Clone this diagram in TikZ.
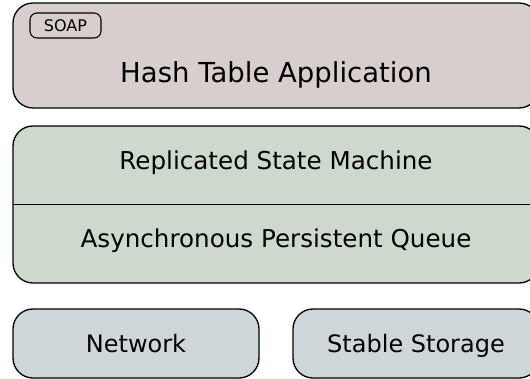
\documentclass[tikz,border=0pt]{standalone}
\usepackage{fontspec}
\setmainfont{DejaVu Sans}
\usetikzlibrary{positioning}
\definecolor{appfill}{RGB}{217,206,206}
\definecolor{corefill}{RGB}{206,217,206}
\definecolor{iofill}{RGB}{206,214,217}
\tikzstyle{layer} = [draw, rectangle, rounded corners=20pt, line width=1.3pt, inner sep=0pt, outer sep=0pt]
\tikzstyle{tag} = [draw, rectangle, rounded corners=7pt, line width=1.1pt, minimum width=71pt, minimum height=25pt, inner sep=0pt, outer sep=0pt, font=\fontsize{16}{18}\selectfont]
\tikzstyle{lbl} = [anchor=base, inner sep=0pt, font=\fontsize{24}{28}\selectfont]
\begin{document}
\begin{tikzpicture}[x=1pt,y=-1pt]
		\useasboundingbox (0,0) rectangle (530,379);
		\clip (0,0) rectangle (530,379);
		% layers
		\node (app) [layer,fill=appfill,minimum width=526pt,minimum height=105pt] at (276,55.5) {};
		\node (core) [layer,fill=corefill,minimum width=526pt,minimum height=157pt] at (276,204.5) {};
		\node (net) [layer,fill=iofill,minimum width=246pt,minimum height=69pt] at (136,343.5) {};
		\node (store) [layer,fill=iofill,minimum width=246pt,minimum height=69pt] at (416,343.5) {};
		\draw[line width=1.2pt] (core.west) -- (core.east);
		% labels
		\node (soap) [tag,below right=10pt and 17pt of app.north west] {SOAP};
		\node (hta) [lbl,font=\fontsize{27.5}{32}\selectfont] at (276,83) {Hash Table Application};
		\node (rsm) [lbl,font=\fontsize{24.6}{29}\selectfont] at (276,170) {Replicated State Machine};
		\node (apq) [lbl,font=\fontsize{24.6}{29}\selectfont] at (276,248) {Asynchronous Persistent Queue};
		\node (netl) [lbl] at (136,352.5) {Network};
		\node (storel) [lbl] at (416,352.5) {Stable Storage};
\end{tikzpicture}
\end{document}
